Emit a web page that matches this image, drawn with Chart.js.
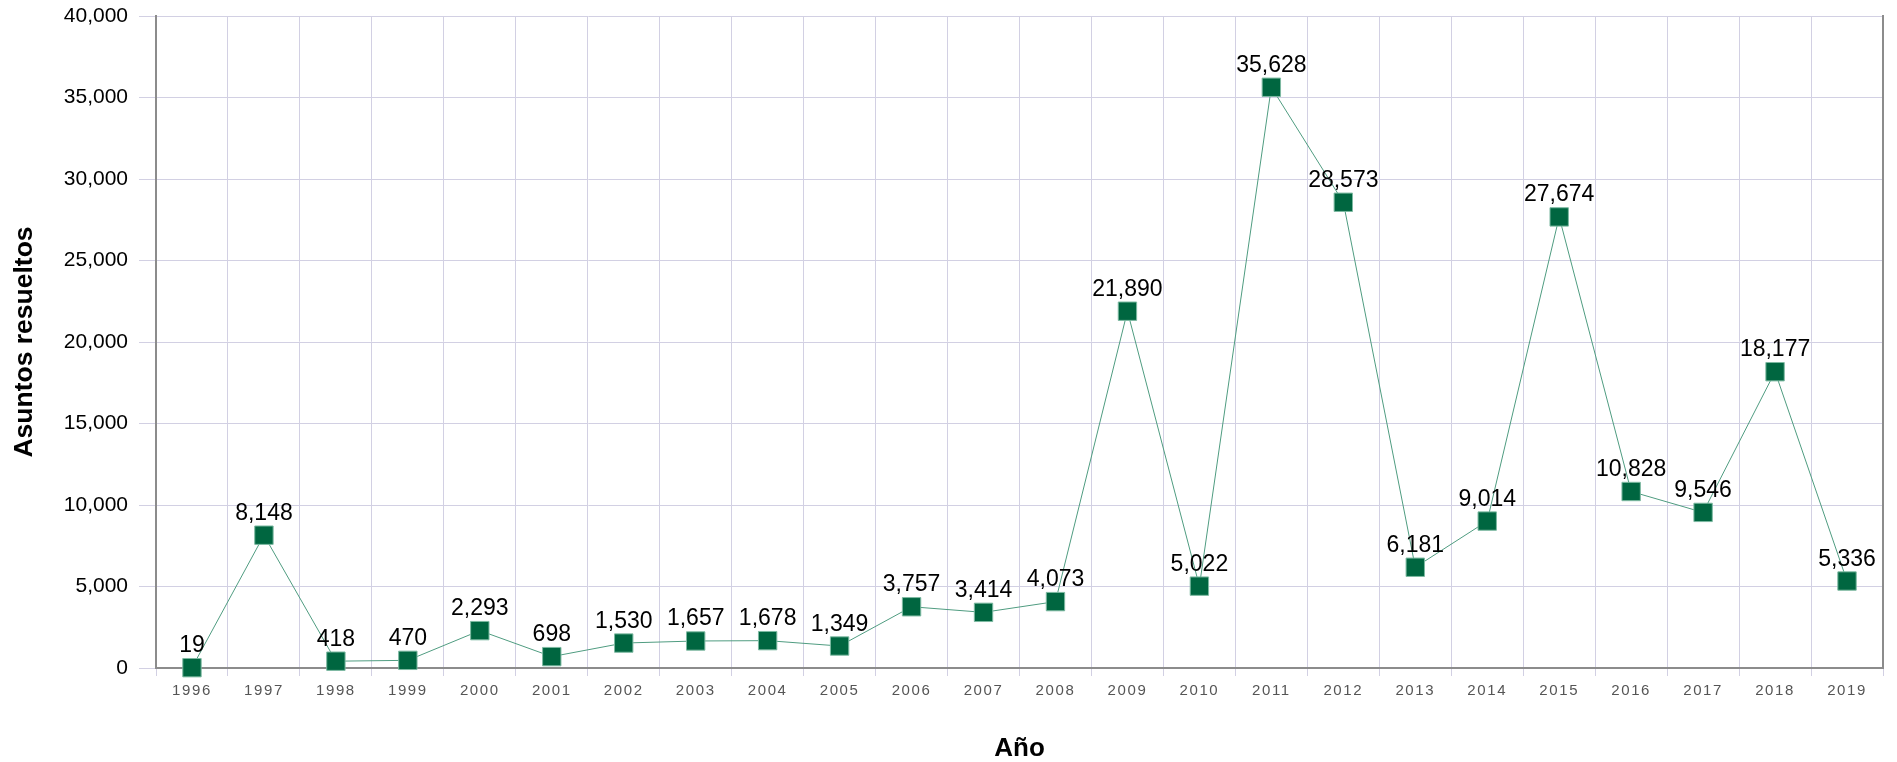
<!DOCTYPE html>
<html>
<head>
<meta charset="utf-8">
<script src="https://cdn.jsdelivr.net/npm/chart.js@4/dist/chart.umd.min.js"></script>
<style>
  html, body { margin: 0; padding: 0; background: #fff; }
  #wrap { width: 1897px; height: 762px; position: relative; }
</style>
</head>
<body>
<div id="wrap"><canvas id="c"></canvas></div>
<script>
// data
const years = ['1996', '1997', '1998', '1999', '2000', '2001', '2002', '2003', '2004', '2005', '2006', '2007',
               '2008', '2009', '2010', '2011', '2012', '2013', '2014', '2015', '2016', '2017', '2018', '2019'];
const resueltos = [19, 8148, 418, 470, 2293, 698, 1530, 1657, 1678, 1349, 3757, 3414,
                   4073, 21890, 5022, 35628, 28573, 6181, 9014, 27674, 10828, 9546, 18177, 5336];

const FONT = '"Liberation Sans", Arial, sans-serif';
const gridColor = '#d2d0e3';
const axisColor = '#8c8c8c';

// value labels above each point
const valueLabels = {
    id: 'valueLabels',
    afterDatasetsDraw(chart) {
        const ctx = chart.ctx;
        const meta = chart.getDatasetMeta(0);
        ctx.save();
        ctx.font = '23px ' + FONT;
        ctx.fillStyle = '#000';
        ctx.textAlign = 'center';
        ctx.textBaseline = 'alphabetic';
        meta.data.forEach((pt, i) => {
            ctx.fillText(resueltos[i].toLocaleString('en-US'), pt.x, pt.y - 15.5);
        });
        ctx.restore();
    }
};

// spaced-out x tick labels
const spacedTicks = {
    id: 'spacedTicks',
    beforeDraw(chart) {
        const sx = chart.scales.x;
        if (sx._spaced) return;
        const orig = sx.drawLabels;
        sx.drawLabels = function (area) {
            this.ctx.save();
            this.ctx.letterSpacing = '1.6px';
            orig.call(this, area);
            this.ctx.restore();
        };
        sx._spaced = true;
    }
};

new Chart(document.getElementById('c'), {
    type: 'line',
    data: {
        labels: years,
        datasets: [{
            data: resueltos,
            borderColor: '#4f9c80',
            borderWidth: 1,
            pointStyle: 'rect',
            pointRadius: 13,
            pointBackgroundColor: '#006640',
            pointBorderColor: '#7dbaa2',
            pointBorderWidth: 1,
            tension: 0,
            fill: false,
            clip: false
        }]
    },
    options: {
        responsive: true,
        maintainAspectRatio: false,
        animation: false,
        layout: { padding: { top: 16, right: 0, left: 0, bottom: 0 } },
        plugins: { legend: { display: false }, tooltip: { enabled: false } },
        scales: {
            x: {
                offset: true,
                grid: { offset: true, color: gridColor, lineWidth: 1, tickLength: 8 },
                border: { color: axisColor, width: 2 },
                ticks: {
                    autoSkip: false, maxRotation: 0, padding: 6,
                    color: '#555', font: { family: FONT, size: 15 }
                },
                title: {
                    display: true, text: 'Año', color: '#000',
                    font: { family: FONT, size: 26, weight: 'bold', lineHeight: 1 },
                    padding: { top: 0, bottom: 0 }
                },
                afterFit(s) { s.height = 94; }
            },
            y: {
                min: 0, max: 40000,
                grid: { color: gridColor, lineWidth: 1, tickLength: 17 },
                border: { color: axisColor, width: 2 },
                ticks: {
                    stepSize: 5000, padding: 11, color: '#000',
                    font: { family: FONT, size: 21 },
                    callback: v => v.toLocaleString('en-US')
                },
                title: {
                    display: true, text: 'Asuntos resueltos', color: '#000',
                    font: { family: FONT, size: 26.5, weight: 'bold', lineHeight: 1 },
                    padding: { top: 11, bottom: 0 }
                },
                afterFit(s) { s.width = 156; s.paddingTop = 12; s.paddingBottom = 12; }
            },
            yr: {
                position: 'right',
                min: 0, max: 40000,
                grid: { display: false },
                border: { color: axisColor, width: 2 },
                ticks: { display: false },
                afterFit(s) { s.width = 9; s.paddingTop = 0; s.paddingBottom = 0; }
            }
        }
    },
    plugins: [valueLabels, spacedTicks]
});
</script>
</body>
</html>
